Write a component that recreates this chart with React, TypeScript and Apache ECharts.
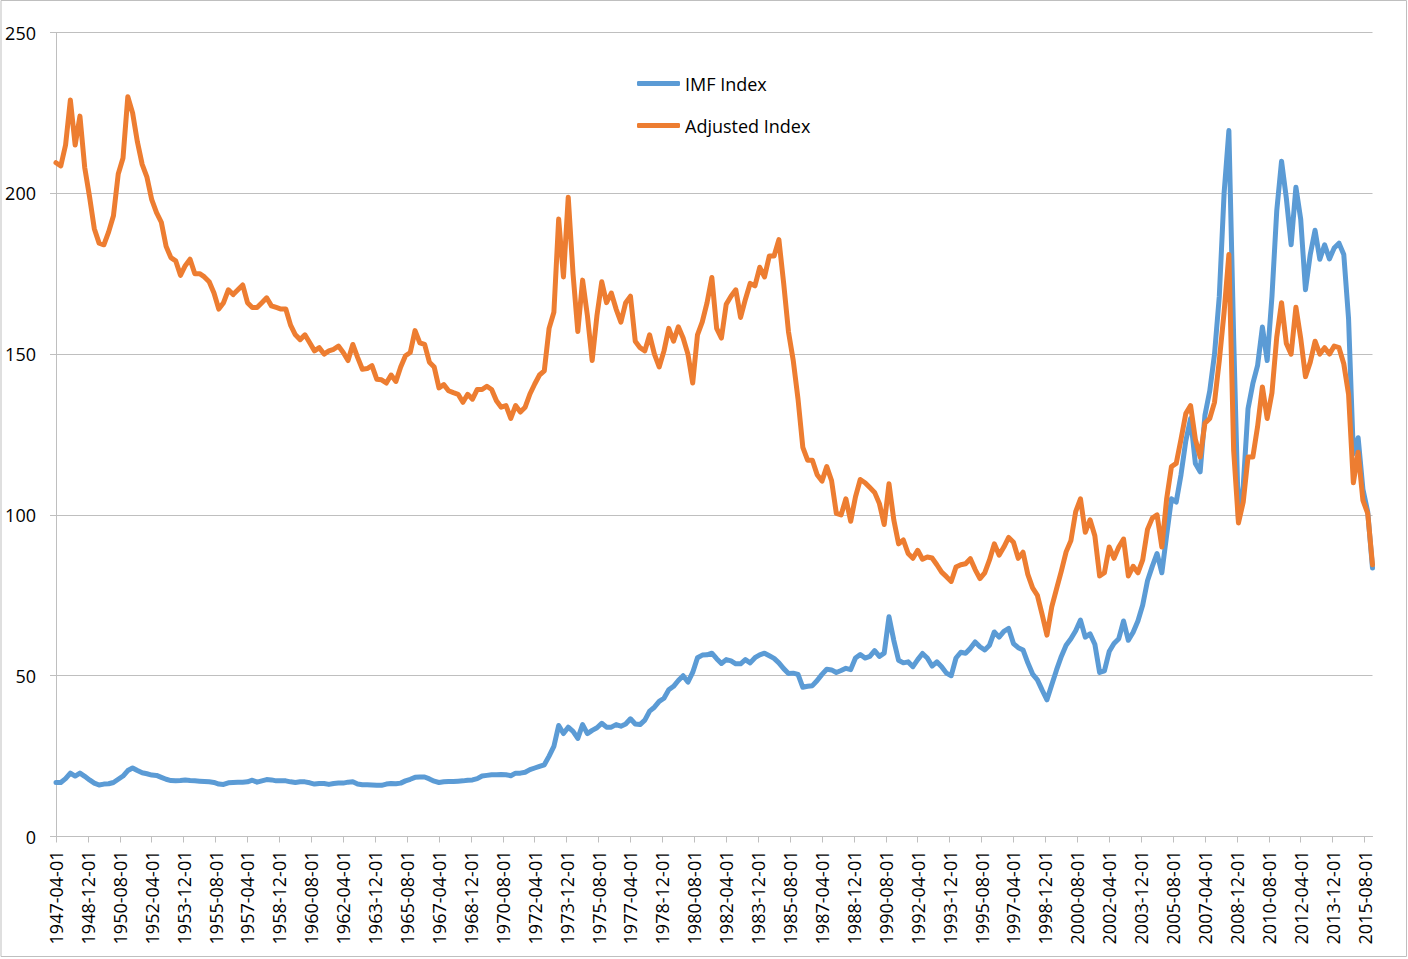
import React, { useEffect, useRef } from "react";
import * as echarts from "echarts";

// Monthly category axis: 1947-04-01 .. 2016-01-01
const START_YEAR = 1947;
const START_MONTH = 4;
const MONTH_COUNT = 826;
const LABEL_EVERY = 20; // one tick label every 20 months
const SAMPLE_STEP = 3; // values below are read every 3 months (quarterly)

const Y_TICKS = [0, 50, 100, 150, 200, 250];

const SERIES_NAMES = ["IMF Index", "Adjusted Index"];

// IMF Index, every 3 months from 1947-04
const imfIndex = [
  16.8, 16.8, 18, 19.7, 18.8, 19.7, 18.7, 17.6, 16.6, 16, 16.3, 16.4,
  16.8, 17.8, 18.8, 20.5, 21.3, 20.5, 19.8, 19.5, 19.1, 19, 18.4, 17.8,
  17.4, 17.3, 17.4, 17.6, 17.4, 17.3, 17.2, 17.1, 17, 16.8, 16.3, 16.2,
  16.7, 16.8, 16.9, 16.9, 17, 17.5, 16.9, 17.3, 17.7, 17.6, 17.3, 17.3,
  17.3, 17, 16.8, 17, 17, 16.7, 16.3, 16.5, 16.5, 16.2, 16.5, 16.6,
  16.6, 16.9, 17, 16.3, 16.1, 16.1, 16, 15.9, 15.9, 16.3, 16.5, 16.4,
  16.6, 17.3, 17.8, 18.4, 18.5, 18.5, 17.9, 17.2, 16.8, 17, 17.1, 17.1,
  17.2, 17.3, 17.5, 17.6, 18, 18.8, 19, 19.2, 19.2, 19.3, 19.2, 18.9,
  19.7, 19.7, 20, 20.8, 21.3, 21.8, 22.3, 25, 28, 34.5, 32, 34,
  32.7, 30.5, 34.8, 32, 33, 33.8, 35.2, 34, 34, 34.8, 34.3, 35,
  36.6, 35, 34.8, 36.2, 39, 40.2, 42, 43, 45.6, 46.7, 48.5, 50,
  48, 51, 55.6, 56.4, 56.5, 57, 55.3, 53.8, 55, 54.6, 53.7, 53.7,
  55, 54, 55.6, 56.5, 57, 56.2, 55.4, 54, 52.2, 50.7, 50.8, 50.4,
  46.4, 46.7, 46.9, 48.5, 50.4, 52, 51.8, 51, 51.6, 52.3, 51.9, 55.5,
  56.6, 55.5, 56, 57.8, 56, 57, 68.3, 61, 54.8, 54, 54.3, 52.8,
  55, 56.9, 55.5, 53, 54.3, 52.8, 50.8, 50, 55.5, 57.3, 57, 58.5,
  60.5, 59, 58, 59.5, 63.6, 62, 63.8, 64.7, 60, 58.7, 58, 54,
  50.5, 48.7, 45.5, 42.5, 47.2, 51.8, 56, 59.5, 61.5, 64, 67.3, 62,
  63, 59.8, 51, 51.5, 57.5, 60, 61.5, 67, 61, 63.5, 67, 72,
  79.5, 84, 88, 82, 93.7, 105, 104, 112.5, 123, 130, 116, 113.4,
  131, 138.5, 150, 168, 200, 219.5, 155, 98.5, 109, 133, 140.8, 146.5,
  158.4, 148, 168, 194.6, 210, 198.5, 184, 201.9, 192, 170, 181, 188.5,
  179.5, 184, 179.6, 183, 184.5, 181, 161, 119, 124, 108, 101, 83.5,
];

// Adjusted Index, every 3 months from 1947-04
const adjustedIndex = [
  209.5, 208.5, 215, 229, 215, 224, 208, 199, 189, 184.5, 184, 188,
  193, 206, 211, 230, 225, 216, 209, 205, 198, 194, 191, 183.5,
  180, 179, 174.5, 177.5, 179.5, 175, 175, 174, 172.5, 169, 164, 166,
  170, 168.5, 170, 171.5, 166, 164.5, 164.5, 166, 167.5, 165, 164.5, 164,
  164, 159, 156, 154.5, 156, 153.5, 151, 152, 150, 151, 151.5, 152.5,
  150.5, 148, 153, 149, 145.3, 145.5, 146.4, 142.2, 142, 141, 143.5, 141.5,
  146, 149.5, 150.5, 157.3, 153.5, 153, 147.5, 146, 139.5, 140.5, 138.6, 138,
  137.5, 135, 137.5, 136, 139, 139, 140, 139, 135.5, 133.5, 134, 130,
  134, 132, 133.5, 137.6, 140.7, 143.5, 144.8, 158, 163, 192, 174, 198.8,
  175, 157, 173, 162, 148, 162, 172.5, 166, 169, 164, 159.9, 166,
  168, 154, 152, 151, 156, 150, 146, 151, 158, 154, 158.5, 155,
  150, 141, 156, 160, 166, 173.8, 158, 155, 165.5, 168, 170, 161.4,
  167, 172, 171.2, 177, 174, 180.5, 180.5, 185.6, 172, 157, 148, 136,
  121, 117, 117, 112.5, 110.5, 115, 110.7, 100.5, 100, 105, 98, 105.6,
  111, 110, 108.5, 107, 103.5, 97, 109.7, 98.5, 91, 92.2, 88, 86.5,
  89, 86.2, 86.9, 86.6, 84.5, 82.2, 80.8, 79.3, 83.8, 84.5, 84.8, 86.4,
  83, 80.2, 82, 86, 91, 87.5, 90, 93, 91.5, 86.5, 88.4, 81.5,
  77.3, 75, 69, 62.6, 71.4, 77, 82.5, 88.5, 92, 101, 105, 94.6,
  98.5, 93.5, 81, 82, 90, 86.5, 90, 92.5, 81, 84, 82, 86,
  95.5, 99, 100, 90, 105, 115, 116, 123.5, 131.5, 134, 123.5, 118,
  128.5, 130, 135, 148, 163, 181, 120, 97.5, 104, 118, 118, 127.5,
  139.8, 130, 138, 155.3, 166, 153.3, 150, 164.6, 155, 143, 147.5, 154,
  150, 152, 150, 152.5, 152, 147, 137.5, 110, 119.5, 104.5, 100.5, 84.5,
];

const COLORS = ["#5B9BD5", "#ED7D31"];
const FONT = "'Open Sans', 'Liberation Sans', sans-serif";

function buildCategories(): string[] {
  const out: string[] = [];
  for (let i = 0; i < MONTH_COUNT; i++) {
    const t = START_MONTH - 1 + i;
    const y = START_YEAR + Math.floor(t / 12);
    const m = (t % 12) + 1;
    out.push(`${y}-${m < 10 ? "0" + m : m}-01`);
  }
  return out;
}

function toPairs(values: number[]): [number, number][] {
  return values.map((v, i) => [i * SAMPLE_STEP, v]);
}

export default function App() {
  const ref = useRef<HTMLDivElement>(null);

  useEffect(() => {
    if (!ref.current) return;
    const chart = echarts.init(ref.current, undefined, { renderer: "svg" });
    const categories = buildCategories();
    const option = {
      animation: false,
      backgroundColor: "#ffffff",
      graphic: [
        {
          type: "rect",
          shape: { x: 1, y: 0.5, width: 1405.5, height: 956 },
          style: { fill: "none", stroke: "#BFBFBF", lineWidth: 1 },
          silent: true,
        },
      ],
      legend: {
        data: SERIES_NAMES,
        orient: "vertical",
        left: 637,
        top: 73,
        padding: 0,
        itemWidth: 43,
        itemHeight: 5,
        itemGap: 21,
        icon: "roundRect",
        selectedMode: false,
        textStyle: {
          fontFamily: FONT,
          fontSize: 18,
          lineHeight: 21,
          color: "#000000",
        },
      },
      grid: {
        left: 56,
        right: 35.5,
        top: 32.5,
        bottom: 122.5,
        containLabel: false,
      },
      xAxis: {
        type: "category",
        data: categories,
        boundaryGap: false,
        axisLine: { show: true, lineStyle: { color: "#BFBFBF", width: 1 } },
        axisTick: {
          show: true,
          interval: LABEL_EVERY - 1,
          length: 6,
          lineStyle: { color: "#BFBFBF" },
        },
        axisLabel: {
          interval: LABEL_EVERY - 1,
          rotate: 90,
          margin: 14,
          fontFamily: FONT,
          fontSize: 18,
          color: "#000000",
        },
        splitLine: { show: false },
      },
      yAxis: {
        type: "value",
        min: Y_TICKS[0],
        max: Y_TICKS[Y_TICKS.length - 1],
        interval: Y_TICKS[1] - Y_TICKS[0],
        axisLine: { show: true, lineStyle: { color: "#BFBFBF", width: 1 } },
        axisTick: { show: true, length: 6, lineStyle: { color: "#BFBFBF" } },
        axisLabel: {
          margin: 20,
          fontFamily: FONT,
          fontSize: 18,
          color: "#000000",
        },
        splitLine: { show: true, lineStyle: { color: "#BFBFBF", width: 1 } },
      },
      series: [
        {
          name: SERIES_NAMES[0],
          type: "line",
          data: toPairs(imfIndex),
          showSymbol: false,
          symbol: "none",
          color: COLORS[0],
          itemStyle: { color: COLORS[0] },
          lineStyle: { color: COLORS[0], width: 5, cap: "round", join: "round" },
          emphasis: { disabled: true },
        },
        {
          name: SERIES_NAMES[1],
          type: "line",
          data: toPairs(adjustedIndex),
          showSymbol: false,
          symbol: "none",
          color: COLORS[1],
          itemStyle: { color: COLORS[1] },
          lineStyle: { color: COLORS[1], width: 5, cap: "round", join: "round" },
          emphasis: { disabled: true },
        },
      ],
    };
    chart.setOption(option);
    return () => {
      chart.dispose();
    };
  }, []);

  return (
    <div
      ref={ref}
      style={{
        position: "absolute",
        left: 0,
        top: 0,
        width: 1408,
        height: 959,
        background: "#ffffff",
      }}
    />
  );
}
